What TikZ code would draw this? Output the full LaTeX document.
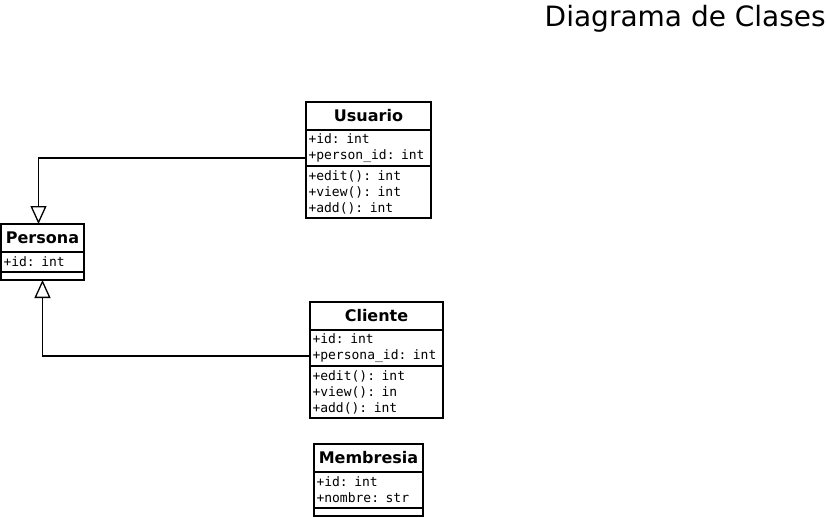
\documentclass[tikz,border=0pt]{standalone}
\usepackage{fontspec}
\setmainfont{DejaVu Sans}
\newfontfamily\monofont{DejaVu Sans Mono}
\usetikzlibrary{arrows.meta,positioning}
\tikzset{
  inh/.style={-{Triangle[open,length=18pt,width=16pt,line width=1.3pt]},line width=1.3pt,black},
  hdr/.style={draw,line width=1.3pt,inner sep=0pt,outer sep=0pt,minimum height=28pt,anchor=north west,font=\fontsize{16}{18}\selectfont\bfseries},
  part/.style={draw,line width=1.3pt,inner xsep=2.5pt,inner ysep=0pt,outer sep=0pt,anchor=north west,align=left,font=\fontsize{13}{16}\monofont}
}

\begin{document}
\begin{tikzpicture}[x=1pt,y=-1pt]
\useasboundingbox (0,0) rectangle (827,517);
\node[anchor=base east,inner sep=0pt,font=\fontsize{28}{32}\selectfont] (title) at (826,26) {Diagrama de Clases};
% Usuario
\node[hdr,minimum width=125pt] (usr) at (306,102) {Usuario};
\node[part,minimum height=36pt,text width=120pt] (usr-a) at (usr.south west) {+id: int\\+person\_id: int};
\node[part,minimum height=52pt,text width=120pt] (usr-m) at (usr-a.south west) {+edit(): int\\+view(): int\\+add(): int};
% Persona
\node[hdr,minimum width=83pt] (per) at (1,224) {Persona};
\node[part,minimum height=20pt,text width=78pt] (per-a) at (per.south west) {+id: int};
\node[part,minimum height=8pt,minimum width=83pt] (per-m) at (per-a.south west) {};
% Cliente
\node[hdr,minimum width=133pt] (cli) at (310,302) {Cliente};
\node[part,minimum height=36pt,text width=128pt] (cli-a) at (cli.south west) {+id: int\\+persona\_id: int};
\node[part,minimum height=52pt,text width=128pt] (cli-m) at (cli-a.south west) {+edit(): int\\+view(): in\\+add(): int};
% Membresia
\node[hdr,minimum width=109pt] (mem) at (314,444) {Membresia};
\node[part,minimum height=36pt,text width=104pt] (mem-a) at (mem.south west) {+id: int\\+nombre: str};
\node[part,minimum height=8pt,minimum width=109pt] (mem-m) at (mem-a.south west) {};
% herencia
\draw[inh] ([yshift=-10pt]usr-a.west) -| ([xshift=-4pt]per.north);
\draw[inh] ([yshift=-8pt]cli-a.west) -| (per-m.south);
\end{tikzpicture}
\end{document}
